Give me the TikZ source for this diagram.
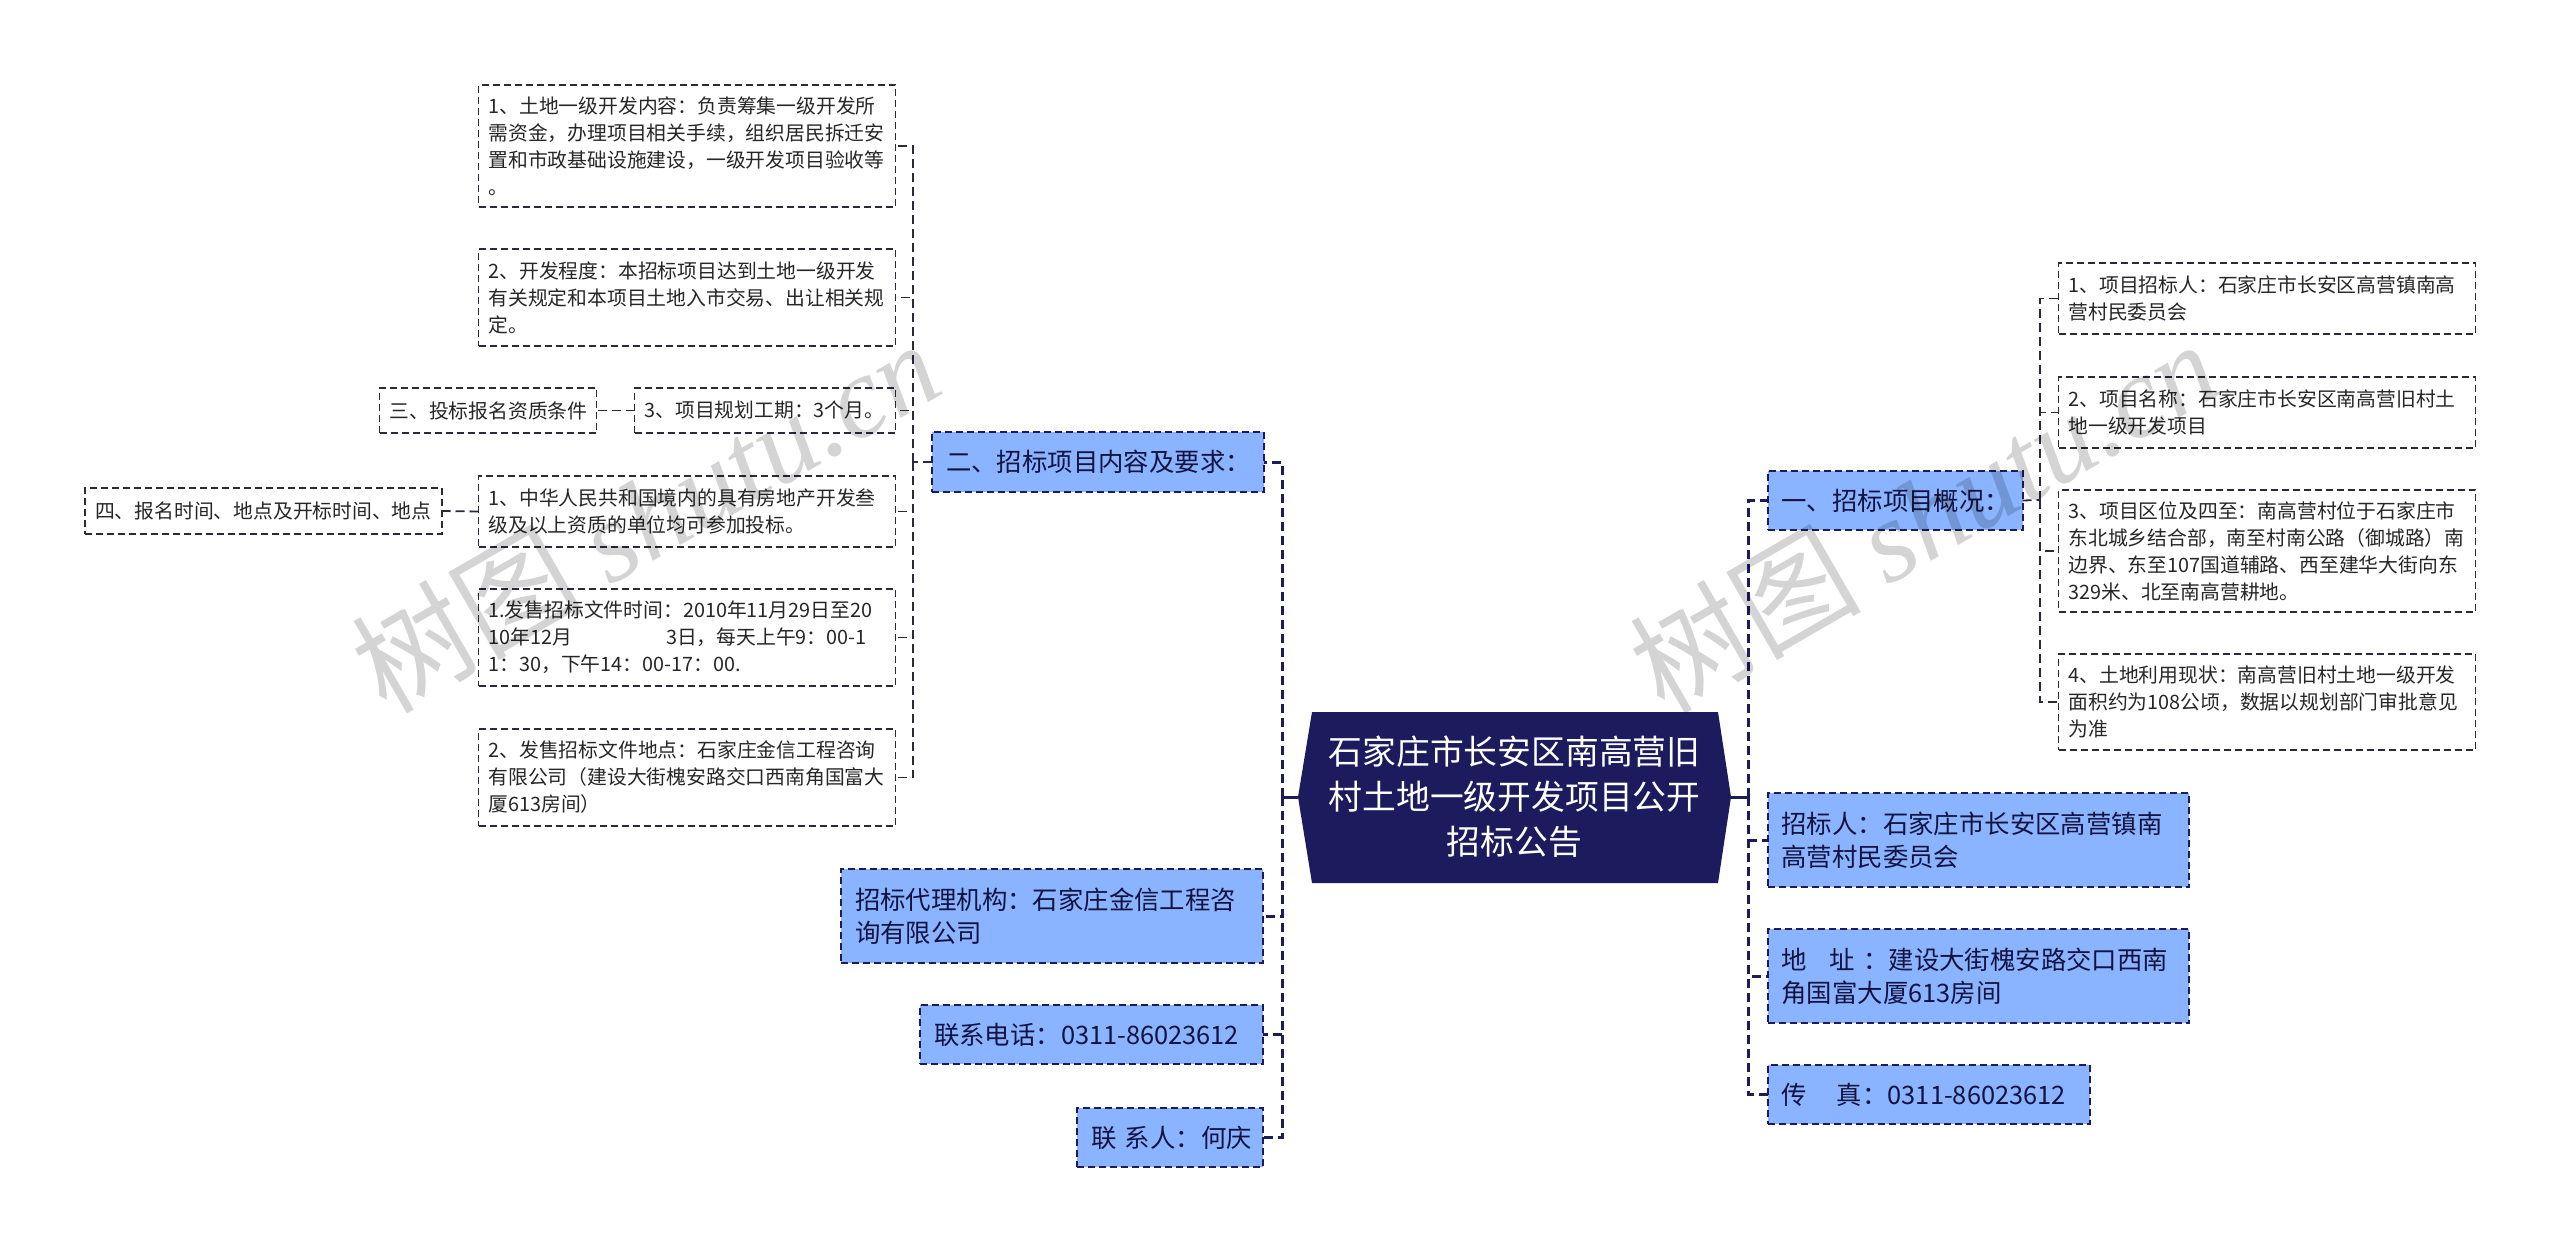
\documentclass[tikz,border=0pt]{standalone}
\usepackage{fontspec}
\setmainfont{Noto Sans CJK SC}
\newfontfamily\markfont{Liberation Serif}
\definecolor{navy}{HTML}{1B1B5E}
\definecolor{skyfill}{HTML}{8AB4FF}
\definecolor{leafink}{HTML}{2A2A3A}
% full width punctuation
\def\zcolon{^^^^ff1a}
\def\zcomma{^^^^ff0c}
\def\zlp{^^^^ff08}
\def\zrp{^^^^ff09}
\tikzset{
	boxsize/.style 2 args={minimum width=#1pt, minimum height=#2pt, text width=#1pt-20pt},
	bluesize/.style 2 args={minimum width=#1pt, minimum height=#2pt, text width=#1pt-28pt},
	leafbox/.style={draw=leafink, line width=1.6pt, dash pattern=on 7pt off 4pt, anchor=north west, inner xsep=10pt, inner ysep=0pt, outer sep=0pt, align=left, text=black!85, font=\fontsize{19.8}{27}\selectfont},
	bluebox/.style={draw=navy, fill=skyfill, line width=2pt, dash pattern=on 7pt off 4pt, anchor=north west, inner xsep=14pt, inner ysep=0pt, outer sep=0pt, align=left, text=navy!70!black, font=\fontsize{25.4}{33}\selectfont},
	rootbox/.style={minimum width=433pt, minimum height=171pt, inner sep=0pt, outer sep=0pt, align=center, text=white, font=\fontsize{33.8}{45}\selectfont},
	mainline/.style={draw=navy, line width=3pt, dash pattern=on 9pt off 5pt},
	subline/.style={draw=leafink, line width=1.8pt, dash pattern=on 9pt off 5pt},
	watermark/.style={rotate=30, text=black, text opacity=.17}
}
\begin{document}
\begin{tikzpicture}[x=1pt, y=-1pt]

\def\width{2560}
\def\height{1249}

\useasboundingbox (0,0) rectangle (\width,\height);

% ROOT
\fill [navy] (1298,797) -- (1312,712) -- (1718,712) -- (1731,797) -- (1718,883) -- (1312,883) -- cycle;
\node [rootbox] (root) at (1514.5,797) {石家庄市长安区南高营旧\\村土地一级开发项目公开\\招标公告};

% RIGHT BRANCHES
\node [bluebox, bluesize={255}{59}] (one) at (1767.5,471) {一、招标项目概况\zcolon};
\node [bluebox, bluesize={421.5}{94}] (bidder) at (1767.5,793) {招标人\zcolon 石家庄市长安区高营镇南\\高营村民委员会};
\node [bluebox, bluesize={421.5}{94}] (addr) at (1767.5,929) {地\hspace{23pt}址\hspace{8pt}\zcolon 建设大街槐安路交口西南\\角国富大厦613房间};
\node [bluebox, bluesize={322}{59}] (fax) at (1767.5,1065) {传\hspace{30pt}真\zcolon 0311-86023612};

% RIGHT LEAVES
\node [leafbox, boxsize={417}{71}] (one1) at (2058.5,263) {1、项目招标人\zcolon 石家庄市长安区高营镇南高\\营村民委员会};
\node [leafbox, boxsize={417}{71}] (one2) at (2058.5,377) {2、项目名称\zcolon 石家庄市长安区南高营旧村土\\地一级开发项目};
\node [leafbox, boxsize={417}{122}] (one3) at (2058.5,490) {3、项目区位及四至\zcolon 南高营村位于石家庄市\\东北城乡结合部\zcomma 南至村南公路\zlp 御城路\zrp 南\\边界、东至107国道辅路、西至建华大街向东\\329米、北至南高营耕地。};
\node [leafbox, boxsize={417}{96}] (one4) at (2058.5,654) {4、土地利用现状\zcolon 南高营旧村土地一级开发\\面积约为108公顷\zcomma 数据以规划部门审批意见\\为准};

% LEFT BRANCHES
\node [bluebox, bluesize={332}{60}] (two) at (932,432) {二、招标项目内容及要求\zcolon};
\node [bluebox, bluesize={422}{94}] (agent) at (841,869) {招标代理机构\zcolon 石家庄金信工程咨\\询有限公司};
\node [bluebox, bluesize={343}{59}] (tel) at (920,1005) {联系电话\zcolon 0311-86023612};
\node [bluebox, bluesize={186}{59}] (person) at (1077,1108) {\mbox{联 系人\zcolon 何庆}};

% LEFT LEAVES
\node [leafbox, boxsize={417}{122}] (two1) at (478.5,85) {1、土地一级开发内容\zcolon 负责筹集一级开发所\\需资金\zcomma 办理项目相关手续\zcomma 组织居民拆迁安\\置和市政基础设施建设\zcomma 一级开发项目验收等\\。};
\node [leafbox, boxsize={417}{97}] (two2) at (478.5,249) {2、开发程度\zcolon 本招标项目达到土地一级开发\\有关规定和本项目土地入市交易、出让相关规\\定。};
\node [leafbox, boxsize={261}{45}] (two3) at (634.5,388) {3、项目规划工期\zcolon 3个月。};
\node [leafbox, boxsize={417}{71}] (two4) at (478.5,476) {1、中华人民共和国境内的具有房地产开发叁\\级及以上资质的单位均可参加投标。};
\node [leafbox, boxsize={417}{97}] (two5) at (478.5,589) {1.发售招标文件时间\zcolon 2010年11月29日至20\\10年12月\hspace{94pt}3日\zcomma 每天上午9\zcolon 00-1\\1\zcolon 30\zcomma 下午14\zcolon 00-17\zcolon 00.};
\node [leafbox, boxsize={417}{97}] (two6) at (478.5,729) {2、发售招标文件地点\zcolon 石家庄金信工程咨询\\有限公司\zlp 建设大街槐安路交口西南角国富大\\厦613房间\zrp};
\node [leafbox, boxsize={217}{45}] (three) at (379.5,388) {三、投标报名资质条件};
\node [leafbox, boxsize={357}{46}] (four) at (85,488) {四、报名时间、地点及开标时间、地点};

% TRUNKS
\coordinate (ltrunk) at (1282,797);
\coordinate (rtrunk) at (1748.5,797);
\coordinate (lsub) at (913,462);
\coordinate (rsub) at (2040,500);

% CONNECTORS
\draw [navy, line width=3pt] (root.west) -- (ltrunk);
\draw [navy, line width=3pt] (root.east) -- (rtrunk);
\foreach \name in {two, agent, tel, person}
	\draw [mainline] (ltrunk) |- (\name.east);
\foreach \name in {one, bidder, addr, fax}
	\draw [mainline] (rtrunk) |- (\name.west);
\draw [subline] (one.east) -- (rsub);
\foreach \name in {one1, one2, one3, one4}
	\draw [subline] (rsub) |- (\name.west);
\draw [subline] (two.west) -- (lsub);
\foreach \name in {two1, two2, two3, two4, two5, two6}
	\draw [subline] (lsub) |- (\name.east);
\draw [subline] (two3.west) -- (three.east);
\draw [subline] (two4.west) -- (four.east);

% WATERMARK
\node [watermark] (mark1) at (645,515) {\fontsize{116}{116}\selectfont 树图 \markfont\itshape shutu.cn};
\node [watermark] (mark2) at (1923,515) {\fontsize{116}{116}\selectfont 树图 \markfont\itshape shutu.cn};

\end{tikzpicture}
\end{document}
